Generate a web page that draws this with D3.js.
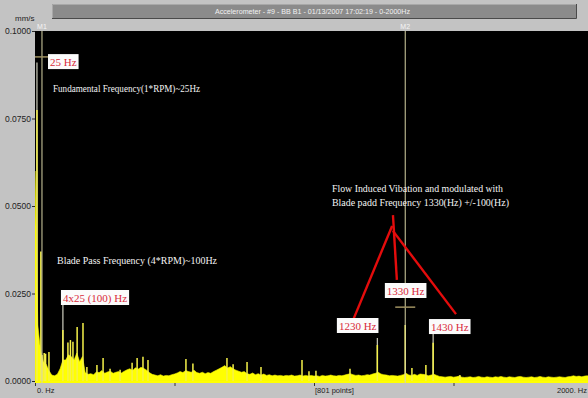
<!DOCTYPE html>
<html><head><meta charset="utf-8">
<script src="https://cdn.jsdelivr.net/npm/d3@7"></script>
<style>html,body{margin:0;padding:0;background:#c3c3c3;overflow:hidden}svg{display:block}</style>
</head><body><svg id="c" width="588" height="398"></svg>
<script>
// ---------------- data ----------------
const floorFreq = d3.range(0, 2001, 10);           // Hz, 10 Hz grid
const floorAmp = [                                  // mm/s
  0.060,0.016,0.0085,0.0055,0.0048,0.0030,0.0017,0.0015,0.0019,0.0035,
  0.0060,0.0060,0.0075,0.0070,0.0060,0.0080,0.0055,0.0070,0.0024,0.0019,
  0.0021,0.0018,0.0026,0.0024,0.0030,0.0022,0.0026,0.0028,0.0022,0.0025,
  0.0027,0.0023,0.0028,0.0032,0.0035,0.0030,0.0038,0.0034,0.0039,0.0036,
  0.0031,0.0024,0.0019,0.0017,0.0015,0.0018,0.0014,0.0016,0.0015,0.0018,
  0.0020,0.0023,0.0027,0.0024,0.0030,0.0027,0.0025,0.0031,0.0024,0.0022,
  0.0025,0.0021,0.0024,0.0022,0.0027,0.0031,0.0035,0.0039,0.0044,0.0037,
  0.0041,0.0035,0.0031,0.0028,0.0025,0.0027,0.0021,0.0019,0.0023,0.0018,
  0.0021,0.0017,0.0020,0.0016,0.0018,0.0015,0.0017,0.0015,0.0016,0.0014,
  0.0016,0.0015,0.0017,0.0014,0.0015,0.0017,0.0014,0.0016,0.0014,0.0016,
  0.0014,0.0015,0.0013,0.0016,0.0014,0.0015,0.0017,0.0015,0.0014,0.0016,
  0.0015,0.0017,0.0019,0.0021,0.0018,0.0016,0.0017,0.0015,0.0016,0.0018,
  0.0017,0.0020,0.0022,0.0025,0.0020,0.0018,0.0017,0.0015,0.0016,0.0015,
  0.0014,0.0016,0.0018,0.0022,0.0017,0.0016,0.0019,0.0016,0.0020,0.0019,
  0.0018,0.0015,0.0017,0.0019,0.0016,0.0013,0.0012,0.0011,0.0012,0.0013,
  0.0011,0.0012,0.0014,0.0011,0.0010,0.0011,0.0012,0.0010,0.0011,0.0013,
  0.0011,0.0010,0.0012,0.0011,0.0010,0.0012,0.0011,0.0013,0.0011,0.0010,
  0.0012,0.0011,0.0010,0.0012,0.0013,0.0011,0.0010,0.0011,0.0012,0.0010,
  0.0011,0.0013,0.0011,0.0010,0.0012,0.0011,0.0010,0.0011,0.0012,0.0011,
  0.0010,0.0012,0.0013,0.0015,0.0013,0.0014,0.0012,0.0014,0.0015,0.0013,
  0.0012
];
const spikeFreq = [7,21,25,33,38,50,100,118,127,136,151,172,186,222,244,269,305,348,366,387,405,
                   541,566,688,710,760,810,957,982,1007,1129,1227,1327,1351,1401,1427,1523];
const spikeAmp  = [0.0774,0.037,0.0074,0.008,0.0078,0.0083,0.0146,0.011,0.0117,0.0112,0.0154,0.0166,0.004,
                   0.0046,0.0066,0.0035,0.0032,0.0052,0.0066,0.0069,0.006,0.0063,0.005,0.0066,0.0048,
                   0.0054,0.004,0.006,0.0028,0.0029,0.0035,0.0103,0.016,0.0037,0.0046,0.0109,0.0017];
const tipFreq = [7,100,1227,1427];                  // pale peak tips
const tipAmp  = [0.091,0.0223,0.0123,0.0134];

const markerName = ["M1","M2"];
const markerFreq = [25,1327];
const markerAmp  = [0.0926,0.0211];

const yTicks = [0,0.025,0.05,0.075,0.1];
const xTicks = [0,500,1000,1500,2000];
const yUnit = "mm/s";
const titleText = "Accelerometer  - #9 - BB B1 - 01/13/2007 17:02:19 - 0-2000Hz";
const xLabelText = ["0. Hz","[801  points]","2000. Hz"];

const labelText = ["25 Hz","4x25 (100) Hz","1330 Hz","1230 Hz","1430 Hz"];
const labelFreq = [46.6,93,1254,1082,1412];        // box left (Hz)
const labelAmp  = [0.0934,0.026,0.028,0.018,0.0177];// box top (mm/s)

const noteText = ["Fundamental Frequency(1*RPM)~25Hz","Blade Pass Frequency (4*RPM)~100Hz",
                  "Flow Induced Vibation and modulated with","Blade padd Frequency 1330(Hz) +/-100(Hz)"];
const noteFreq = [64.5,79,1064.5,1064.5];
const noteAmp  = [0.0826,0.0334,0.054,0.050];

const arrowFrom = [[1280,0.0443],[1283,0.0474],[1283,0.0429]];
const arrowTo   = [[1140,0.0174],[1297,0.0289],[1509,0.0191]];

// ---------------- layout ----------------
const svg = d3.select("#c");
const P = {l:35, t:31, r:588, b:383};
const x = d3.scaleLinear().domain([0,2000]).range([35,593]);
const y = d3.scaleLinear().domain([0,0.1]).range([381,31]);
const sans = "'Liberation Sans', Arial, sans-serif";
const serif = "'Liberation Serif', 'Times New Roman', serif";

// title bar
svg.append("rect").attr("x",52).attr("y",4).attr("width",524).attr("height",14).attr("fill","#8b8b8b");
svg.append("path").attr("d","M52,18.5H576.5V4").attr("fill","none").attr("stroke","#4a4a4a").attr("stroke-width",1);
svg.append("path").attr("d","M52.5,18V4.5H576").attr("fill","none").attr("stroke","#a8a8a8").attr("stroke-width",1);
svg.append("text").attr("x",215).attr("y",13.5).attr("textLength",195).attr("lengthAdjust","spacingAndGlyphs")
  .attr("font-family",sans).attr("font-size",7.5).attr("fill","#f2f2f2").text(titleText);

// plot background
svg.append("defs").append("clipPath").attr("id","pc").append("rect")
  .attr("x",P.l).attr("y",P.t).attr("width",P.r-P.l).attr("height",P.b-P.t);
svg.append("rect").attr("x",P.l).attr("y",P.t).attr("width",P.r-P.l).attr("height",P.b-P.t).attr("fill","#000");

const g = svg.append("g").attr("clip-path","url(#pc)");

// pale tips
g.selectAll("line.tip").data(tipFreq.map((f,i)=>({f,a:tipAmp[i]}))).join("line").attr("class","tip")
  .attr("x1",d=>x(d.f)).attr("x2",d=>x(d.f)).attr("y1",y(0)).attr("y2",d=>y(d.a))
  .attr("stroke","#cfcfbf").attr("stroke-width",1.2);

// floor area
const floorData = floorFreq.map((f,i)=>({f,a:floorAmp[i]}));
g.append("path").datum(floorData)
  .attr("d",d3.area().x(d=>x(d.f)).y0(y(0)).y1(d=>y(d.a)))
  .attr("fill","#ffff00").attr("stroke","#f4f400").attr("stroke-width",0.6);
g.append("rect").attr("x",P.l).attr("y",y(0)).attr("width",P.r-P.l).attr("height",P.b-y(0)).attr("fill","#ffff00");

// spikes
g.selectAll("line.sp").data(spikeFreq.map((f,i)=>({f,a:spikeAmp[i]}))).join("line").attr("class","sp")
  .attr("x1",d=>x(d.f)).attr("x2",d=>x(d.f)).attr("y1",y(0)).attr("y2",d=>y(d.a))
  .attr("stroke","#f6f24a").attr("stroke-width",1.5);

// markers
const mk = markerFreq.map((f,i)=>({f,a:markerAmp[i],n:markerName[i]}));
g.selectAll("line.mv").data(mk).join("line").attr("class","mv")
  .attr("x1",d=>x(d.f)).attr("x2",d=>x(d.f)).attr("y1",P.t).attr("y2",P.b)
  .attr("stroke","#d8d4a6").attr("stroke-width",1);
g.selectAll("line.mh").data(mk).join("line").attr("class","mh")
  .attr("x1",d=>x(d.f)-10).attr("x2",d=>x(d.f)+10).attr("y1",d=>y(d.a)).attr("y2",d=>y(d.a))
  .attr("stroke","#9e9060").attr("stroke-width",1.5);
svg.selectAll("text.mn").data(mk).join("text").attr("class","mn")
  .attr("x",d=>x(d.f)).attr("y",29).attr("text-anchor","middle")
  .attr("font-family",sans).attr("font-size",7).attr("fill","#f4f4f4").text(d=>d.n);

// red annotation lines
g.selectAll("line.ar").data(arrowFrom.map((p,i)=>[p,arrowTo[i]])).join("line").attr("class","ar")
  .attr("x1",d=>x(d[0][0])).attr("y1",d=>y(d[0][1])).attr("x2",d=>x(d[1][0])).attr("y2",d=>y(d[1][1]))
  .attr("stroke","#e40c0c").attr("stroke-width",2.4);

// notes
const noteW = [147,160,171,177];
g.selectAll("text.nt").data(noteText).join("text").attr("class","nt")
  .attr("x",(d,i)=>x(noteFreq[i])).attr("y",(d,i)=>y(noteAmp[i]))
  .attr("textLength",(d,i)=>noteW[i]).attr("lengthAdjust","spacingAndGlyphs")
  .attr("font-family",serif).attr("font-size",10.5).attr("fill","#f4f4f4").text(d=>d);

// labels
const lg = g.selectAll("g.lb").data(labelText).join("g").attr("class","lb")
  .attr("transform",(d,i)=>`translate(${x(labelFreq[i])},${y(labelAmp[i])})`);
lg.append("text").attr("x",2).attr("y",12).attr("font-family",serif).attr("font-size",11)
  .attr("fill","#d82a3a").text(d=>d);
lg.each(function(){
  const t = d3.select(this).select("text");
  const w = t.node().getComputedTextLength();
  d3.select(this).insert("rect","text").attr("width",w+4).attr("height",15).attr("fill","#fbfbfb");
});

// y axis
const ya = svg.append("g").attr("transform",`translate(${P.l},0)`)
  .call(d3.axisLeft(y).tickValues(yTicks).tickFormat(d3.format(".4f")).tickSize(3).tickPadding(1));
ya.select(".domain").remove();
ya.selectAll("line").attr("stroke","#2a2a2a");
ya.selectAll("text").attr("font-family",sans).attr("font-size",8.5).attr("fill","#222");
svg.append("text").attr("x",15).attr("y",21).attr("font-family",sans).attr("font-size",8)
  .attr("fill","#222").text(yUnit);

// x axis
const xa = svg.append("g").attr("transform",`translate(0,${P.b})`)
  .call(d3.axisBottom(x).tickValues(xTicks).tickFormat("").tickSize(3));
xa.select(".domain").remove();
xa.selectAll("line").attr("stroke","#333");
const xl = [{f:0,dx:2,a:"start"},{f:1000,dx:1,a:"start"},{f:2000,dx:-6,a:"end"}];
svg.selectAll("text.xl").data(xLabelText).join("text").attr("class","xl")
  .attr("x",(d,i)=>x(xl[i].f)+xl[i].dx).attr("y",393).attr("text-anchor",(d,i)=>xl[i].a)
  .attr("font-family",sans).attr("font-size",7.5).attr("fill","#222").text(d=>d);
</script></body></html>
